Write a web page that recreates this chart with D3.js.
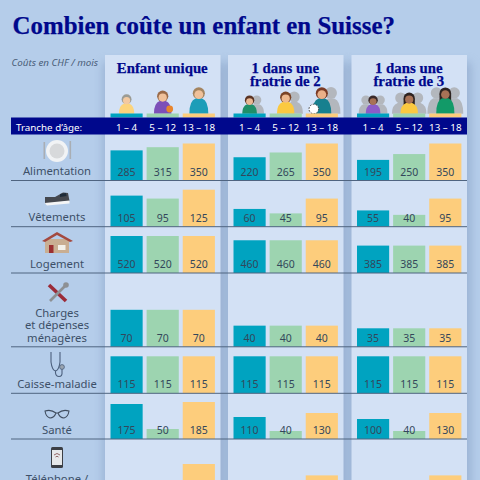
<!DOCTYPE html>
<html lang="fr">

<head>
  <meta charset="utf-8">
  <title>Combien coûte un enfant en Suisse?</title>
  <script src="https://d3js.org/d3.v7.min.js" charset="utf-8"></script>
  <style type="text/css">
    html, body { margin: 0; padding: 0; background: #b5cdea; overflow: hidden; }
    svg { display: block; }
    .serif { font-family: "Liberation Serif", serif; font-weight: 700; fill: #00088c; stroke: #00088c; stroke-width: 0.25px; }
    .sans { font-family: "Noto Sans", sans-serif; }
    .val { font-size: 10.5px; fill: #33475b; text-anchor: middle; }
    .rowlabel { font-size: 11.3px; fill: #3d5068; text-anchor: middle; }
  </style>
</head>

<body>
  <script type="text/javascript">

    var title = "Combien coûte un enfant en Suisse?";
    var unitLabel = "Coûts en CHF / mois";
    var ageLabel = "Tranche d’âge:";
    var ages = ["1 – 4", "5 – 12", "13 – 18"];
    var panels = [["Enfant unique"], ["1 dans une", "fratrie de 2"], ["1 dans une", "fratrie de 3"]];
    var categories = [["Alimentation"], ["Vêtements"], ["Logement"], ["Charges", "et dépenses", "ménagères"],
      ["Caisse-maladie"], ["Santé"], ["Téléphone /"]];

    // one list per category: panel by panel, 3 age groups each
    var alimentation = [[285, 315, 350], [220, 265, 350], [195, 250, 350]];
    var vetements = [[105, 95, 125], [60, 45, 95], [55, 40, 95]];
    var logement = [[520, 520, 520], [460, 460, 460], [385, 385, 385]];
    var charges = [[70, 70, 70], [40, 40, 40], [35, 35, 35]];
    var caisse = [[115, 115, 115], [115, 115, 115], [115, 115, 115]];
    var sante = [[175, 50, 185], [110, 40, 130], [100, 40, 130]];
    // last row is cut by the picture edge, only the tallest bars show (estimates)
    var telephone = [[20, 20, 65], [20, 20, 45], [20, 20, 45]];
    var rows = [alimentation, vetements, logement, charges, caisse, sante, telephone];

    var W = 480, H = 480;
    var colors = ["#00a3c0", "#9dd4b0", "#fdcd7c"];
    var panelX = [105, 228, 351.5];
    var panelW = 115.5;
    var baselines = [180.5, 226.7, 273, 346.8, 393.3, 439, 501];
    var labelY = [175, 221, 267.5, 317, 388, 434, 482.5];
    var barMax = 37;

    var svg = d3.select("body").append("svg")
      .attr("width", W)
      .attr("height", H);

    var defs = svg.append("defs");
    defs.append("filter").attr("id", "blur").attr("x", "-30%").attr("width", "160%")
      .append("feGaussianBlur").attr("stdDeviation", 5);
    defs.append("clipPath").attr("id", "frame").append("rect").attr("width", W).attr("height", H);

    var root = svg.append("g").attr("clip-path", "url(#frame)");
    root.append("rect").attr("width", W).attr("height", H).attr("fill", "#b5cdea");

    // panel shadows, then panels
    root.selectAll(".shadow").data(panelX).enter().append("rect")
      .attr("class", "shadow")
      .attr("x", function (d) { return d - 2; })
      .attr("y", 62).attr("width", panelW + 6).attr("height", 460)
      .attr("fill", "#7f97bd").attr("opacity", 0.5)
      .attr("filter", "url(#blur)");
    root.selectAll(".panel").data(panelX).enter().append("rect")
      .attr("class", "panel")
      .attr("x", function (d) { return d; })
      .attr("y", 55).attr("width", panelW).attr("height", 440)
      .attr("fill", "#d3e1f5");

    root.append("text").attr("class", "serif").attr("id", "title")
      .attr("x", 12.5).attr("y", 33.5).attr("font-size", 24.9).text(title);

    root.append("text").attr("class", "sans")
      .attr("x", 11.5).attr("y", 66).attr("font-size", 9.8).attr("font-style", "italic")
      .attr("fill", "#4a5d78").text(unitLabel);

    // panel headings
    panels.forEach(function (lines, p) {
      lines.forEach(function (line, i) {
        root.append("text").attr("class", "serif")
          .attr("x", panelX[p] + panelW / 2 - 0.5).attr("y", 73 + i * 12.5)
          .attr("font-size", 14.8).attr("text-anchor", "middle").text(line);
      });
    });

    var bands = panelX.map(function (px) {
      return d3.scaleBand().domain(d3.range(3)).range([px + 3.7, px + 111.7]).paddingInner(0.11).paddingOuter(0.05);
    });

    // children figures sit on a small strip above the age band
    var figures = [
      [{ y: 100, r: 4.4, shirt: "#fcd47c", hair: "#9b9b94", skin: "#f3c9a0", grey: 0 },
       { y: 97, r: 5, shirt: "#7c4fb8", hair: "#9a6a48", skin: "#f0c19a", grey: 0, ball: "#e8852c" },
       { y: 94, r: 5.4, shirt: "#1c9db8", hair: "#a4845f", skin: "#f0c19a", grey: 0 }],
      [{ y: 101, r: 4.2, shirt: "#1f8f68", hair: "#5b3423", skin: "#eab893", grey: 1 },
       { y: 98, r: 5, shirt: "#fbc941", hair: "#7a4426", skin: "#eeb98e", grey: 1 },
       { y: 94, r: 5.4, shirt: "#17808f", hair: "#7a3a24", skin: "#eab088", grey: 1, ball: "#ffffff" }],
      [{ y: 101, r: 4.2, shirt: "#8b5cc8", hair: "#3a2a2a", skin: "#a87256", grey: 2 },
       { y: 99, r: 5, shirt: "#fbc941", hair: "#2e2320", skin: "#a87256", grey: 2 },
       { y: 94, r: 5.2, shirt: "#129a68", hair: "#2e2320", skin: "#a87256", grey: 2 }]
    ];

    function drawFigure(g, cx, f) {
      var top = f.y + f.r - 1, bot = 113.7, hw = f.r * 1.75;
      var body = "M" + (cx - hw) + "," + bot + " Q" + (cx - hw) + "," + (top + 2) + " " + (cx - f.r * 0.6) + "," + top +
        " L" + (cx + f.r * 0.6) + "," + top + " Q" + (cx + hw) + "," + (top + 2) + " " + (cx + hw) + "," + bot + " Z";
      // grey siblings behind
      if (f.grey > 0) {
        [1, -1].slice(0, f.grey).forEach(function (side) {
          var gx = cx + side * f.r * 1.7;
          g.append("circle").attr("cx", gx).attr("cy", f.y - 1).attr("r", f.r * 1.1).attr("fill", "#b3b7bd");
          g.append("path").attr("transform", "translate(" + (gx - cx) + ",0)").attr("d", body).attr("fill", "#b3b7bd");
        });
      }
      g.append("circle").attr("cx", cx).attr("cy", f.y - 0.8).attr("r", f.r * 1.12).attr("fill", f.hair);
      if (f.r > 4.6 && f.skin === "#a87256") {
        g.append("rect").attr("x", cx - f.r * 1.12).attr("y", f.y).attr("width", f.r * 2.24).attr("height", f.r * 1.5).attr("fill", f.hair);
      }
      g.append("path").attr("d", body).attr("fill", f.shirt);
      g.append("circle").attr("cx", cx).attr("cy", f.y + 0.6).attr("r", f.r * 0.82).attr("fill", f.skin);
      if (f.ball) {
        g.append("circle").attr("cx", cx + (f.ball === "#ffffff" ? -8 : 7)).attr("cy", 109).attr("r", f.ball === "#ffffff" ? 4.8 : 3.4)
          .attr("fill", f.ball).attr("stroke", f.ball === "#ffffff" ? "#333" : "none").attr("stroke-dasharray", "1.5 1.5").attr("stroke-width", 1);
      }
    }

    figures.forEach(function (list, p) {
      var g = root.append("g");
      list.forEach(function (f, a) {
        drawFigure(g, bands[p](a) + bands[p].bandwidth() / 2, f);
      });
      g.selectAll(".strip").data(ages).enter().append("rect")
        .attr("x", function (d, i) { return bands[p](i); })
        .attr("y", 113.5).attr("width", bands[p].bandwidth()).attr("height", 4)
        .attr("fill", function (d, i) { return colors[i]; });
    });

    // age band
    root.append("rect").attr("x", 11).attr("y", 117.5).attr("width", 456).attr("height", 17).attr("fill", "#00088c");
    root.append("text").attr("class", "sans").attr("x", 16).attr("y", 130.5)
      .attr("font-size", 9.8).attr("fill", "#fff").text(ageLabel);
    panelX.forEach(function (px, p) {
      root.selectAll(".age" + p).data(ages).enter().append("text")
        .attr("class", "sans")
        .attr("x", function (d, i) { return bands[p](i) + bands[p].bandwidth() / 2; })
        .attr("y", 130.5).attr("font-size", 9.8).attr("fill", "#fff").attr("text-anchor", "middle")
        .text(function (d) { return d; });
    });

    // rows of bars, each category has its own scale
    rows.forEach(function (row, r) {
      var base = baselines[r];
      var y = d3.scaleLinear().domain([0, d3.max(row, function (d) { return d3.max(d); })]).range([base, base - barMax]);
      row.forEach(function (vals, p) {
        var g = root.append("g");
        g.selectAll("rect").data(vals).enter().append("rect")
          .attr("x", function (d, i) { return bands[p](i); })
          .attr("y", function (d) { return y(d); })
          .attr("width", bands[p].bandwidth())
          .attr("height", function (d) { return base - y(d); })
          .attr("fill", function (d, i) { return colors[i]; });
        // numbers of the last row fall below the picture
        if (base - 5 < H) {
          g.selectAll("text").data(vals).enter().append("text")
            .attr("class", "sans val")
            .attr("x", function (d, i) { return bands[p](i) + bands[p].bandwidth() / 2; })
            .attr("y", base - 5)
            .text(function (d) { return d; });
        }
      });
      root.append("line").attr("x1", 11).attr("x2", 467).attr("y1", base).attr("y2", base)
        .attr("stroke", "#4f6480").attr("stroke-width", 1);
      categories[r].forEach(function (line, i) {
        root.append("text").attr("class", "sans rowlabel")
          .attr("x", 57).attr("y", labelY[r] + i * 12.4).text(line);
      });
    });

    // small pictograms in the left column
    var ic = root.append("g");
    // plate
    ic.append("circle").attr("cx", 57).attr("cy", 151).attr("r", 11).attr("fill", "#f1f3f5");
    ic.append("circle").attr("cx", 57).attr("cy", 151).attr("r", 7.5).attr("fill", "#d7d9db");
    ic.append("rect").attr("x", 43.5).attr("y", 142).attr("width", 1.6).attr("height", 17).attr("fill", "#a9aeb4");
    ic.append("rect").attr("x", 69.5).attr("y", 141).attr("width", 1.6).attr("height", 18).attr("fill", "#a9aeb4");
    // shoe
    ic.append("path").attr("d", "M45,197 L55,197 L63,192.5 L68,193 L69.5,201 L45,204 Z").attr("fill", "#45484f");
    ic.append("path").attr("d", "M60,194 L66,193 L66.5,196 L60,197 Z").attr("fill", "#1d2b3a");
    ic.append("path").attr("d", "M44.5,203 L69.5,200.5 L69.5,203.5 L47,205.5 Z").attr("fill", "#f4f5f6");
    // house
    ic.append("rect").attr("x", 45).attr("y", 239).attr("width", 24).attr("height", 14).attr("fill", "#c9ae92");
    ic.append("path").attr("d", "M42,241 L57,232 L73,241 L70,242 L57,235 L45,242 Z").attr("fill", "#a4493f");
    ic.append("rect").attr("x", 49).attr("y", 245).attr("width", 4.5).attr("height", 8).attr("fill", "#9b2f31");
    ic.append("rect").attr("x", 58).attr("y", 245).attr("width", 7.5).attr("height", 5).attr("fill", "#f3f1ea");
    // tools
    ic.append("line").attr("x1", 49).attr("y1", 285).attr("x2", 66).attr("y2", 301).attr("stroke", "#9b2b38").attr("stroke-width", 3.6);
    ic.append("line").attr("x1", 66).attr("y1", 285).attr("x2", 50).attr("y2", 301).attr("stroke", "#8d9094").attr("stroke-width", 2.6);
    ic.append("circle").attr("cx", 66).attr("cy", 285).attr("r", 2.8).attr("fill", "#8d9094");
    // stethoscope
    ic.append("path").attr("d", "M51,352 L51,362 Q52,370 55.5,371 L55.5,373 Q56,376.5 59,376.5 Q62.5,376.5 62,372 L62,369")
      .attr("fill", "none").attr("stroke", "#4b5f7c").attr("stroke-width", 1.1);
    ic.append("path").attr("d", "M60,352 L60,362 Q59,370 55.5,371")
      .attr("fill", "none").attr("stroke", "#4b5f7c").attr("stroke-width", 1.1);
    ic.append("circle").attr("cx", 62).attr("cy", 367).attr("r", 2.4).attr("fill", "#9aa4b0").attr("stroke", "#4b5f7c").attr("stroke-width", 0.8);
    // glasses
    ic.append("path").attr("d", "M45,411 Q51,409 56,413 Q54,418 50,418 Q46,417 45,411 Z M58,413 Q63,409 69,411 Q68,417 64,418 Q60,418 58,413 Z M56,413 L58,413")
      .attr("fill", "none").attr("stroke", "#3f4c5e").attr("stroke-width", 1.1);
    // phone
    ic.append("rect").attr("x", 51).attr("y", 447).attr("width", 12).attr("height", 21).attr("rx", 1.5).attr("fill", "#3c3f45");
    ic.append("rect").attr("x", 52).attr("y", 450).attr("width", 10).attr("height", 15).attr("fill", "#e6e8ea");
    ic.append("path").attr("d", "M54,455 Q57,452 60,455 M55.5,457 Q57,455.5 58.5,457").attr("fill", "none").attr("stroke", "#8a5a5a").attr("stroke-width", 0.9);

  </script>
</body>

</html>
